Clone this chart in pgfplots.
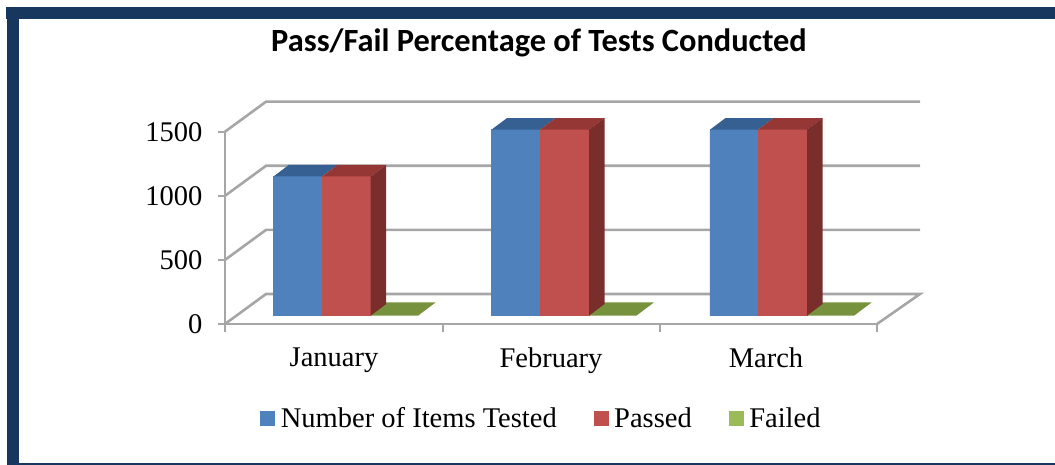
\documentclass[border=0pt]{standalone}
\usepackage{pgfplots}
\usepackage{fontspec}
\setmainfont{Liberation Serif}
\newfontfamily\titlefont{Carlito}
\pgfplotsset{compat=1.18}
\definecolor{frame}{HTML}{17375E}
\definecolor{wall}{HTML}{A6A6A6}
\definecolor{bluef}{HTML}{4F81BD}
\definecolor{bluet}{HTML}{376092}
\definecolor{redf}{HTML}{C0504D}
\definecolor{redt}{HTML}{953735}
\definecolor{reds}{HTML}{7A2E2C}
\definecolor{greenf}{HTML}{9BBB59}
\definecolor{greent}{HTML}{76923C}
\begin{document}
\begin{tikzpicture}
\useasboundingbox (0pt,0pt) rectangle (1055pt,465pt);
\fill[frame] (6pt,446pt) rectangle (1055pt,458pt);
\fill[frame] (7pt,0pt) rectangle (19pt,446pt);
\fill[frame] (19pt,0pt) rectangle (1055pt,2pt);
\begin{axis}[
  at={(225pt,141pt)},
  scale only axis,
  width=652pt, height=192.3pt,
  xmin=225, xmax=877, ymin=0, ymax=1500,
  clip=false,
  axis x line*=bottom, axis y line*=left,
  axis line style={wall, line width=2.6pt},
  tick style={wall, line width=2pt},
  tick align=outside,
  major tick length=7pt, minor tick length=8pt,
  xtick={334,551,766},
  xticklabels={January,February,March},
  major x tick style={draw=none},
  minor xtick={225,443,660,877},
  ytick={0,500,1000,1500},
  tick label style={font=\fontsize{28.5}{32}\selectfont, black},
  /pgf/number format/assume math mode=true,
  /pgf/number format/1000 sep={},
  xticklabel style={yshift=-13pt},
  yticklabel style={xshift=-12pt},
  title={\titlefont\bfseries\fontsize{32.4}{36}\selectfont Pass/Fail Percentage of Tests Conducted},
  title style={at={(0.4816,1.43)}, anchor=center},
  legend style={at={(0.4854,-0.489)}, anchor=center, draw=none, fill=none,
    font=\fontsize{28.5}{32}\selectfont, legend columns=3,
    /tikz/every odd column/.append style={column sep=3.5pt},
    /tikz/every even column/.append style={column sep=35pt}},
  legend cell align=left,
  legend image code/.code={\fill[draw=none,#1] (0pt,-7.5pt) rectangle (15pt,7.5pt);},
  legend entries={Number of Items Tested,Passed,Failed},
  wallline/.style={wall, line width=2.6pt, forget plot, mark=none},
  face/.style={draw=none, yshift=8.3pt, forget plot, mark=none},
  bar/.style={ybar, bar width=48.5pt, bar shift=0pt, line width=0.4pt, yshift=8.3pt, forget plot},
]
\addlegendimage{fill=bluef}
\addlegendimage{fill=redf}
\addlegendimage{fill=greenf}
% walls and floor
\addplot[wallline] coordinates {(225,0) (266,234) (920,234) (877,0)};
\addplot[wallline] coordinates {(225,500) (266,734) (920,734)};
\addplot[wallline] coordinates {(225,1000) (266,1234) (920,1234)};
\addplot[wallline] coordinates {(225,1500) (266,1734) (920,1734)};
% failed: lies nearly flat on the floor
\addplot[face, fill=greent] coordinates {(370.7,0) (418,0) (435.7,104) (386.2,104)};
\addplot[face, fill=greent] coordinates {(589,0) (636.3,0) (654,104) (604.5,104)};
\addplot[face, fill=greent] coordinates {(807,0) (854,0) (871.7,104) (822.5,104)};
% front faces
\addplot[bar, fill=bluef, draw=bluef] coordinates {(297.75,1086) (515.75,1451) (734,1451)};
\addplot[bar, fill=redf, draw=redf] coordinates {(346.35,1086) (564.5,1451) (782.5,1451)};
% top faces
\addplot[face, fill=bluet] coordinates {(273.5,1086) (322,1086) (337.5,1177) (289,1177)};
\addplot[face, fill=bluet] coordinates {(491.5,1451) (540,1451) (555.5,1542) (507,1542)};
\addplot[face, fill=bluet] coordinates {(710,1451) (758,1451) (773.5,1542) (725.5,1542)};
\addplot[face, fill=redt] coordinates {(322,1086) (370.7,1086) (386.2,1177) (337.5,1177)};
\addplot[face, fill=redt] coordinates {(540,1451) (589,1451) (604.5,1542) (555.5,1542)};
\addplot[face, fill=redt] coordinates {(758,1451) (807,1451) (822.5,1542) (773.5,1542)};
% side faces
\addplot[face, fill=reds] coordinates {(370.7,0) (370.7,1086) (386.2,1177) (386.2,91)};
\addplot[face, fill=reds] coordinates {(589,0) (589,1451) (604.5,1542) (604.5,91)};
\addplot[face, fill=reds] coordinates {(807,0) (807,1451) (822.5,1542) (822.5,91)};
\end{axis}
\end{tikzpicture}
\end{document}
